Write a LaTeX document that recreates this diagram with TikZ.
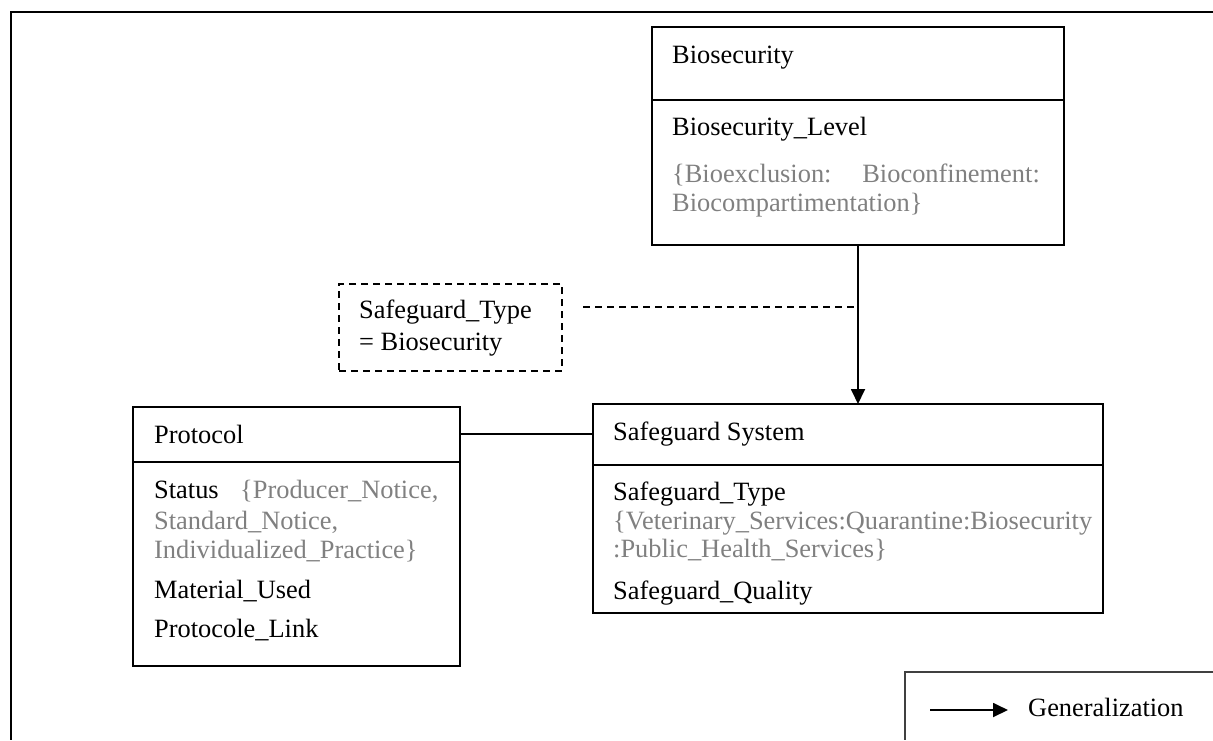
\documentclass[tikz,border=0pt]{standalone}
\usepackage{fontspec}
\setmainfont{Liberation Serif}
\usetikzlibrary{arrows.meta}
\definecolor{enumgray}{RGB}{128,128,128}
\tikzset{
  classbox/.style={draw, line width=1.8pt, anchor=north west, inner sep=0pt, outer sep=0pt},
  notebox/.style={draw, line width=1.6pt, dash pattern=on 7pt off 5pt, anchor=north west, inner sep=0pt, outer sep=0pt},
  divider/.style={line width=1.8pt},
  txt/.style={anchor=base west, inner sep=0pt, font=\fontsize{26.4}{30}\selectfont},
  txtr/.style={txt, anchor=base east},
  enum/.style={text=enumgray},
  genarrow/.style={line width=1.8pt, -{Triangle[length=15pt,width=14pt]}},
  assocline/.style={line width=1.6pt},
  noteline/.style={line width=1.6pt, dash pattern=on 7pt off 5pt},
  frameline/.style={line width=2.4pt},
  legendline/.style={line width=1.4pt, draw=black!75},
}
\begin{document}
\begin{tikzpicture}[x=1pt, y=-1pt]
\useasboundingbox (0,0) rectangle (1213,740);

% outer frame
\draw[frameline] (1213,12) -- (11,12) -- (11,740);

% Biosecurity class
\node[classbox, minimum width=412pt, minimum height=218pt] (bio) at (652,27) {};
\draw[divider] (652,100) -- (1064,100);
\node[txt] (biotitle) at (672,63) {Biosecurity};
\node[txt] (biolevel) at (672,135) {Biosecurity\_Level};
\node[txt, enum] (bioenumA) at (672,182) {\{Bioexclusion:};
\node[txtr, enum] (bioenumB) at (1040,182) {Bioconfinement:};
\node[txt, enum] (bioenumC) at (672,211) {Biocompartimentation\}};

% constraint note
\node[notebox, minimum width=223pt, minimum height=87pt] (note) at (339,284) {};
\node[txt] (noteA) at (359,318) {Safeguard\_Type};
\node[txt] (noteB) at (359,350) {= Biosecurity};

% Protocol class
\node[classbox, minimum width=327pt, minimum height=259pt] (prot) at (133,407) {};
\draw[divider] (133,462) -- (460,462);
\node[txt] (prottitle) at (154,443) {Protocol};
\node[txt] (protstatus) at (154,498) {Status};
\node[txt, enum] (protenumA) at (240,498) {\{Producer\_Notice,};
\node[txt, enum] (protenumB) at (154,529) {Standard\_Notice,};
\node[txt, enum] (protenumC) at (154,558) {Individualized\_Practice\}};
\node[txt] (protmat) at (154,598) {Material\_Used};
\node[txt] (protlink) at (154,637) {Protocole\_Link};

% Safeguard System class
\node[classbox, minimum width=510pt, minimum height=209pt] (sg) at (593,404) {};
\draw[divider] (593,465) -- (1103,465);
\node[txt] (sgtitle) at (613,440) {Safeguard System};
\node[txt] (sgtype) at (613,500) {Safeguard\_Type};
\node[txt, enum] (sgenumA) at (613,529) {\{Veterinary\_Services:Quarantine:Biosecurity};
\node[txt, enum] (sgenumB) at (613,557) {:Public\_Health\_Services\}};
\node[txt] (sgquality) at (613,599) {Safeguard\_Quality};

% generalization Biosecurity -> Safeguard System
\draw[genarrow] (bio.south) -- (bio.south |- sg.north);

% note attached to the generalization
\coordinate (notestart) at (583,307);
\draw[noteline] (notestart) -- (notestart -| bio.south);

% association Protocol -- Safeguard System
\coordinate (assocrow) at (0,434);
\draw[assocline] (prot.east |- assocrow) -- (sg.west |- assocrow);

% legend
\draw[legendline] (1213,672) -- (905,672) -- (905,740);
\coordinate (legA) at (930,710);
\coordinate (legB) at (1008,710);
\draw[genarrow] (legA) -- (legB);
\node[txt] (legtext) at (1028,716) {Generalization};
\end{tikzpicture}
\end{document}
